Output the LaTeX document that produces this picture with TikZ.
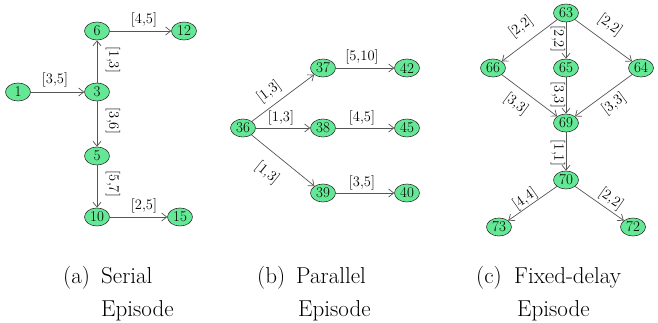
\documentclass[tikz,border=0pt]{standalone}
\usetikzlibrary{shapes.geometric,arrows.meta}
\definecolor{nodegreen}{RGB}{100,232,150}
\definecolor{edgegray}{RGB}{85,85,85}
\tikzset{
  ev/.style={ellipse, draw=black!80, line width=0.6pt, fill=nodegreen,
    minimum width=25pt, minimum height=18pt, inner sep=0pt,
    font=\fontsize{15}{17}\selectfont},
  arc/.style={draw=edgegray, line width=0.7pt,
    -{Straight Barb[length=5pt,width=8pt]}},
  iv/.style={inner sep=0pt, font=\fontsize{14.5}{16}\selectfont},
  subcap/.style={inner sep=0pt, anchor=base west, font=\fontsize{23}{26}\selectfont},
}
\begin{document}
\begin{tikzpicture}[x=1pt,y=-1pt]
\useasboundingbox (0,0) rectangle (658,323);

% (a) serial episode
\node[ev] (n1)  at (18,92)  {1};
\node[ev] (n3)  at (97,92)  {3};
\node[ev] (n6)  at (97,31)  {6};
\node[ev] (n12) at (184,31) {12};
\node[ev] (n5)  at (97,156) {5};
\node[ev] (n10) at (97,217) {10};
\node[ev] (n15) at (180,217){15};
\draw[arc] (n1) -- (n3);
\draw[arc] (n3) -- (n6);
\draw[arc] (n6) -- (n12);
\draw[arc] (n3) -- (n5);
\draw[arc] (n5) -- (n10);
\draw[arc] (n10) -- (n15);
\node[iv] (la1) at (55,80)  {[3,5]};
\node[iv] (la2) at (144,20) {[4,5]};
\node[iv] (la3) at (144,206){[2,5]};
\node[iv,rotate=-90] (la4) at (113,60)  {[1,3]};
\node[iv,rotate=-90] (la5) at (113,121) {[3,6]};
\node[iv,rotate=-90] (la6) at (113,184) {[5,7]};

% (b) parallel episode
\node[ev] (n36) at (243,128) {36};
\node[ev] (n37) at (323,68)  {37};
\node[ev] (n42) at (407,68)  {42};
\node[ev] (n38) at (323,128) {38};
\node[ev] (n45) at (407,128) {45};
\node[ev] (n39) at (323,193) {39};
\node[ev] (n40) at (407,193) {40};
\draw[arc] (n36) -- (n37);
\draw[arc] (n36) -- (n38);
\draw[arc] (n36) -- (n39);
\draw[arc] (n37) -- (n42);
\draw[arc] (n38) -- (n45);
\draw[arc] (n39) -- (n40);
\node[iv] (lb1) at (362,57)  {[5,10]};
\node[iv] (lb2) at (362,118) {[4,5]};
\node[iv] (lb3) at (362,183) {[3,5]};
\node[iv] (lb4) at (281,118) {[1,3]};
\node[iv,rotate=37]  (lb5) at (269,92)  {[1,3]};
\node[iv,rotate=-39] (lb6) at (267,173) {[1,3]};

% (c) fixed-delay episode
\node[ev] (n63) at (566,13)  {63};
\node[ev] (n66) at (493,68)  {66};
\node[ev] (n65) at (566,68)  {65};
\node[ev] (n64) at (641,68)  {64};
\node[ev] (n69) at (566,123) {69};
\node[ev] (n70) at (566,180) {70};
\node[ev] (n73) at (499,227) {73};
\node[ev] (n72) at (633,227) {72};
\draw[arc] (n63) -- (n66);
\draw[arc] (n63) -- (n65);
\draw[arc] (n63) -- (n64);
\draw[arc] (n66) -- (n69);
\draw[arc] (n65) -- (n69);
\draw[arc] (n64) -- (n69);
\draw[arc] (n69) -- (n70);
\draw[arc] (n70) -- (n73);
\draw[arc] (n70) -- (n72);
\node[iv,rotate=37]  (lc1) at (521,27)  {[2,2]};
\node[iv,rotate=-90] (lc2) at (558,39)  {[2,2]};
\node[iv,rotate=-36] (lc3) at (610,25)  {[2,2]};
\node[iv,rotate=-37] (lc4) at (516,104) {[3,3]};
\node[iv,rotate=-90] (lc5) at (558,95)  {[3,3]};
\node[iv,rotate=36]  (lc6) at (614,104) {[3,3]};
\node[iv,rotate=-90] (lc7) at (558,153) {[1,1]};
\node[iv,rotate=35]  (lc8) at (525,199) {[4,4]};
\node[iv,rotate=-35] (lc9) at (611,199) {[2,2]};

% sub-captions
\node[subcap] (ca) at (63,283)  {(a)};
\node[subcap] (ca1) at (101,283) {Serial};
\node[subcap] (ca2) at (101,316) {Episode};
\node[subcap] (cb) at (257,283) {(b)};
\node[subcap] (cb1) at (296,283) {Parallel};
\node[subcap] (cb2) at (298,316) {Episode};
\node[subcap] (cc) at (476,283) {(c)};
\node[subcap] (cc1) at (514,283) {Fixed-delay};
\node[subcap] (cc2) at (517,316) {Episode};
\end{tikzpicture}
\end{document}
